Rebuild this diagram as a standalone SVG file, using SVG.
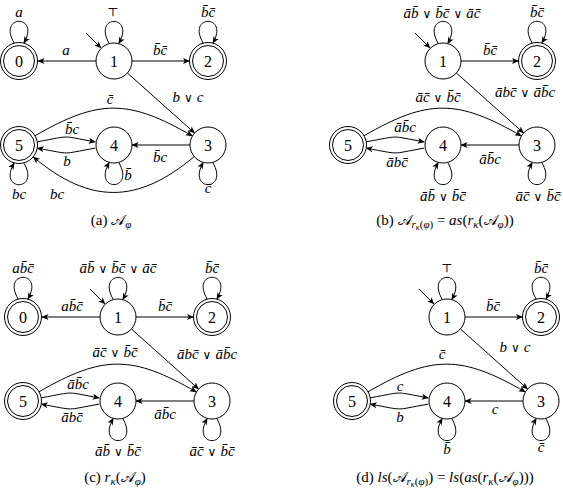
<svg xmlns="http://www.w3.org/2000/svg" width="563" height="495" viewBox="0 0 563 495">
<defs>
<marker id="ah" viewBox="-7 -4 8 8" refX="0" refY="0" markerWidth="8" markerHeight="8" markerUnits="userSpaceOnUse" orient="auto">
<path d="M0.5,0 L-6.5,-3 L-4.8,0 L-6.5,3 Z" fill="#000"/>
</marker>
</defs>
<style>
.st{fill:#fff;stroke:#000;stroke-width:1}
.e{fill:none;stroke:#000;stroke-width:1;marker-end:url(#ah)}
text{font-family:'Liberation Serif','Times New Roman','DejaVu Serif',serif}
.lb{font-style:italic;font-size:15px;text-anchor:middle;fill:#000}
.nd{font-size:16px;text-anchor:middle;fill:#000}
.cap{font-size:15px;text-anchor:middle;fill:#000}
.up{font-style:normal}
.op{font-style:normal;font-family:'DejaVu Serif',serif;font-size:12px}
.it{font-style:italic}
.sc{font-family:'DejaVu Serif','Noto Sans','DejaVu Sans',serif;font-style:normal}
.sub{font-size:11px}
.ss{font-size:8px}
</style>
<rect width="563" height="495" fill="#fff"/>

<!-- Panel (a) -->
<g id="panel-a">
<g id="a-edges">
<path class="e" d="M86,33 L101,48"/>
<path class="e" d="M14.2,43.1 C-3,14 41,14 23.8,43.1"/>
<path class="e" d="M109.3,43.6 C92,14 136,14 118.7,43.6"/>
<path class="e" d="M203.2,43.1 C186,14 230,14 212.8,43.1"/>
<path class="e" d="M96,61 L38,61"/>
<path class="e" d="M132,61 L189.5,61"/>
<path class="e" d="M127.4,73 L194.6,133"/>
<path class="e" d="M35,135.8 C99,98.8 128.4,99 192.4,136"/>
<path class="e" d="M194.2,156.6 C137.5,204.2 89.9,204.5 33.2,156.9"/>
<path class="e" d="M37.2,141.8 C73.4,135.4 59.1,135.5 95.3,141.9"/>
<path class="e" d="M95.3,148.1 C59.1,154.5 73.4,154.5 37.2,148.2"/>
<path class="e" d="M190,145 L132,145"/>
<path class="e" d="M23.8,162.9 C41,192 -3,192 14.2,162.9"/>
<path class="e" d="M118.7,162.4 C136,192 92,192 109.3,162.4"/>
<path class="e" d="M212.7,162.4 C230,192 186,192 203.3,162.4"/>
</g>
<g id="a-labels">
<text class="lb" x="19" y="17">a</text>
<text class="lb op" x="113" y="16">⊤</text>
<text class="lb" x="208" y="17">b&#x304;c&#x304;</text>
<text class="lb" x="66" y="55">a</text>
<text class="lb" x="160" y="55">b&#x304;c&#x304;</text>
<text class="lb" x="188" y="102">b<tspan class="op" dx="4">∨</tspan><tspan dx="4">c</tspan></text>
<text class="lb" x="110" y="104">c&#x304;</text>
<text class="lb" x="72" y="134">b&#x304;c</text>
<text class="lb" x="67" y="166">b</text>
<text class="lb" x="160" y="162">b&#x304;c</text>
<text class="lb" x="19" y="199">bc</text>
<text class="lb" x="128" y="180">b&#x304;</text>
<text class="lb" x="208" y="193">c&#x304;</text>
<text class="lb" x="57" y="199">bc</text>
</g>
<g id="a-n0"><circle class="st" cx="19" cy="61" r="18.5"/><circle class="st" cx="19" cy="61" r="15.5"/><text class="nd" x="19" y="66.5">0</text></g>
<g id="a-n1"><circle class="st" cx="114" cy="61" r="18"/><text class="nd" x="114" y="66.5">1</text></g>
<g id="a-n2"><circle class="st" cx="208" cy="61" r="18.5"/><circle class="st" cx="208" cy="61" r="15.5"/><text class="nd" x="208" y="66.5">2</text></g>
<g id="a-n3"><circle class="st" cx="208" cy="145" r="18"/><text class="nd" x="208" y="150.5">3</text></g>
<g id="a-n4"><circle class="st" cx="114" cy="145" r="18"/><text class="nd" x="114" y="150.5">4</text></g>
<g id="a-n5"><circle class="st" cx="19" cy="145" r="18.5"/><circle class="st" cx="19" cy="145" r="15.5"/><text class="nd" x="19" y="150.5">5</text></g>
<text class="cap" x="111" y="225">(a) <tspan class="sc">𝒜</tspan><tspan class="sub it" dy="3">φ</tspan></text>
</g>

<!-- Panel (b) -->
<g id="panel-b" transform="translate(329,0)">
<g id="b-edges">
<path class="e" d="M86,33 L101,48"/>
<path class="e" d="M109.3,43.6 C92,14 136,14 118.7,43.6"/>
<path class="e" d="M203.2,43.1 C186,14 230,14 212.8,43.1"/>
<path class="e" d="M132,61 L189.5,61"/>
<path class="e" d="M127.4,73 L194.6,133"/>
<path class="e" d="M35,135.8 C99,98.8 128.4,99 192.4,136"/>
<path class="e" d="M37.2,141.8 C73.4,135.4 59.1,135.5 95.3,141.9"/>
<path class="e" d="M95.3,148.1 C59.1,154.5 73.4,154.5 37.2,148.2"/>
<path class="e" d="M190,145 L132,145"/>
<path class="e" d="M118.7,162.4 C136,192 92,192 109.3,162.4"/>
<path class="e" d="M212.7,162.4 C230,192 186,192 203.3,162.4"/>
</g>
<g id="b-labels">
<text class="lb" x="113" y="18">&#x101;b&#x304;<tspan class="op" dx="4">∨</tspan><tspan dx="4">b&#x304;c&#x304;</tspan><tspan class="op" dx="4">∨</tspan><tspan dx="4">&#x101;c&#x304;</tspan></text>
<text class="lb" x="208" y="17">b&#x304;c&#x304;</text>
<text class="lb" x="161" y="55">b&#x304;c&#x304;</text>
<text class="lb" x="196" y="97">&#x101;bc&#x304;<tspan class="op" dx="4">∨</tspan><tspan dx="4">&#x101;b&#x304;c</tspan></text>
<text class="lb" x="109" y="102">&#x101;c&#x304;<tspan class="op" dx="4">∨</tspan><tspan dx="4">b&#x304;c&#x304;</tspan></text>
<text class="lb" x="76" y="132">&#x101;b&#x304;c</text>
<text class="lb" x="68" y="167">&#x101;bc&#x304;</text>
<text class="lb" x="161" y="164">&#x101;b&#x304;c</text>
<text class="lb" x="114" y="201">&#x101;b&#x304;<tspan class="op" dx="4">∨</tspan><tspan dx="4">b&#x304;c&#x304;</tspan></text>
<text class="lb" x="209" y="201">&#x101;c&#x304;<tspan class="op" dx="4">∨</tspan><tspan dx="4">b&#x304;c&#x304;</tspan></text>
</g>
<g id="b-n1"><circle class="st" cx="114" cy="61" r="18"/><text class="nd" x="114" y="66.5">1</text></g>
<g id="b-n2"><circle class="st" cx="208" cy="61" r="18.5"/><circle class="st" cx="208" cy="61" r="15.5"/><text class="nd" x="208" y="66.5">2</text></g>
<g id="b-n3"><circle class="st" cx="208" cy="145" r="18"/><text class="nd" x="208" y="150.5">3</text></g>
<g id="b-n4"><circle class="st" cx="114" cy="145" r="18"/><text class="nd" x="114" y="150.5">4</text></g>
<g id="b-n5"><circle class="st" cx="19" cy="145" r="18.5"/><circle class="st" cx="19" cy="145" r="15.5"/><text class="nd" x="19" y="150.5">5</text></g>
<text class="cap" x="116" y="225">(b) <tspan class="sc">𝒜</tspan><tspan class="sub it" dy="3">r</tspan><tspan class="ss it" dy="2">κ</tspan><tspan class="sub" dy="-2">(</tspan><tspan class="sub it">φ</tspan><tspan class="sub">)</tspan><tspan dy="-3"> = </tspan><tspan class="it">as</tspan>(<tspan class="it">r</tspan><tspan class="sub it" dy="3">κ</tspan><tspan dy="-3">(</tspan><tspan class="sc">𝒜</tspan><tspan class="sub it" dy="3">φ</tspan><tspan dy="-3">))</tspan></text>
</g>

<!-- Panel (c) -->
<g id="panel-c" transform="translate(4,256)">
<g id="c-edges">
<path class="e" d="M86,33 L101,48"/>
<path class="e" d="M14.2,43.1 C-3,14 41,14 23.8,43.1"/>
<path class="e" d="M109.3,43.6 C92,14 136,14 118.7,43.6"/>
<path class="e" d="M203.2,43.1 C186,14 230,14 212.8,43.1"/>
<path class="e" d="M96,61 L38,61"/>
<path class="e" d="M132,61 L189.5,61"/>
<path class="e" d="M127.4,73 L194.6,133"/>
<path class="e" d="M35,135.8 C99,98.8 128.4,99 192.4,136"/>
<path class="e" d="M37.2,141.8 C73.4,135.4 59.1,135.5 95.3,141.9"/>
<path class="e" d="M95.3,148.1 C59.1,154.5 73.4,154.5 37.2,148.2"/>
<path class="e" d="M190,145 L132,145"/>
<path class="e" d="M118.7,162.4 C136,192 92,192 109.3,162.4"/>
<path class="e" d="M212.7,162.4 C230,192 186,192 203.3,162.4"/>
</g>
<g id="c-labels">
<text class="lb" x="19" y="17">ab&#x304;c&#x304;</text>
<text class="lb" x="114" y="17">&#x101;b&#x304;<tspan class="op" dx="4">∨</tspan><tspan dx="4">b&#x304;c&#x304;</tspan><tspan class="op" dx="4">∨</tspan><tspan dx="4">&#x101;c&#x304;</tspan></text>
<text class="lb" x="208" y="17">b&#x304;c&#x304;</text>
<text class="lb" x="68" y="55">ab&#x304;c&#x304;</text>
<text class="lb" x="161" y="55">b&#x304;c&#x304;</text>
<text class="lb" x="203" y="103">&#x101;bc&#x304;<tspan class="op" dx="4">∨</tspan><tspan dx="4">&#x101;b&#x304;c</tspan></text>
<text class="lb" x="111" y="101">&#x101;c&#x304;<tspan class="op" dx="4">∨</tspan><tspan dx="4">b&#x304;c&#x304;</tspan></text>
<text class="lb" x="74" y="133">&#x101;b&#x304;c</text>
<text class="lb" x="68" y="166">&#x101;bc&#x304;</text>
<text class="lb" x="161" y="163">&#x101;b&#x304;c</text>
<text class="lb" x="114" y="200">&#x101;b&#x304;<tspan class="op" dx="4">∨</tspan><tspan dx="4">b&#x304;c&#x304;</tspan></text>
<text class="lb" x="208" y="200">&#x101;c&#x304;<tspan class="op" dx="4">∨</tspan><tspan dx="4">b&#x304;c&#x304;</tspan></text>
</g>
<g id="c-n0"><circle class="st" cx="19" cy="61" r="18.5"/><circle class="st" cx="19" cy="61" r="15.5"/><text class="nd" x="19" y="66.5">0</text></g>
<g id="c-n1"><circle class="st" cx="114" cy="61" r="18"/><text class="nd" x="114" y="66.5">1</text></g>
<g id="c-n2"><circle class="st" cx="208" cy="61" r="18.5"/><circle class="st" cx="208" cy="61" r="15.5"/><text class="nd" x="208" y="66.5">2</text></g>
<g id="c-n3"><circle class="st" cx="208" cy="145" r="18"/><text class="nd" x="208" y="150.5">3</text></g>
<g id="c-n4"><circle class="st" cx="114" cy="145" r="18"/><text class="nd" x="114" y="150.5">4</text></g>
<g id="c-n5"><circle class="st" cx="19" cy="145" r="18.5"/><circle class="st" cx="19" cy="145" r="15.5"/><text class="nd" x="19" y="150.5">5</text></g>
<text class="cap" x="111" y="226">(c) <tspan class="it">r</tspan><tspan class="sub it" dy="3">κ</tspan><tspan dy="-3">(</tspan><tspan class="sc">𝒜</tspan><tspan class="sub it" dy="3">φ</tspan><tspan dy="-3">)</tspan></text>
</g>

<!-- Panel (d) -->
<g id="panel-d" transform="translate(333,256)">
<g id="d-edges">
<path class="e" d="M86,33 L101,48"/>
<path class="e" d="M109.3,43.6 C92,14 136,14 118.7,43.6"/>
<path class="e" d="M203.2,43.1 C186,14 230,14 212.8,43.1"/>
<path class="e" d="M132,61 L189.5,61"/>
<path class="e" d="M127.4,73 L194.6,133"/>
<path class="e" d="M35,135.8 C99,98.8 128.4,99 192.4,136"/>
<path class="e" d="M37.2,141.8 C73.4,135.4 59.1,135.5 95.3,141.9"/>
<path class="e" d="M95.3,148.1 C59.1,154.5 73.4,154.5 37.2,148.2"/>
<path class="e" d="M190,145 L132,145"/>
<path class="e" d="M118.7,162.4 C136,192 92,192 109.3,162.4"/>
<path class="e" d="M212.7,162.4 C230,192 186,192 203.3,162.4"/>
</g>
<g id="d-labels">
<text class="lb op" x="114" y="16">⊤</text>
<text class="lb" x="208" y="17">b&#x304;c&#x304;</text>
<text class="lb" x="160" y="55">b&#x304;c&#x304;</text>
<text class="lb" x="182" y="96">b<tspan class="op" dx="4">∨</tspan><tspan dx="4">c</tspan></text>
<text class="lb" x="109" y="103">c&#x304;</text>
<text class="lb" x="67" y="135">c</text>
<text class="lb" x="67" y="166">b</text>
<text class="lb" x="162" y="158">c</text>
<text class="lb" x="114" y="198">b&#x304;</text>
<text class="lb" x="208" y="196">c&#x304;</text>
</g>
<g id="d-n1"><circle class="st" cx="114" cy="61" r="18"/><text class="nd" x="114" y="66.5">1</text></g>
<g id="d-n2"><circle class="st" cx="208" cy="61" r="18.5"/><circle class="st" cx="208" cy="61" r="15.5"/><text class="nd" x="208" y="66.5">2</text></g>
<g id="d-n3"><circle class="st" cx="208" cy="145" r="18"/><text class="nd" x="208" y="150.5">3</text></g>
<g id="d-n4"><circle class="st" cx="114" cy="145" r="18"/><text class="nd" x="114" y="150.5">4</text></g>
<g id="d-n5"><circle class="st" cx="19" cy="145" r="18.5"/><circle class="st" cx="19" cy="145" r="15.5"/><text class="nd" x="19" y="150.5">5</text></g>
<text class="cap" x="112" y="226">(d) <tspan class="it">ls</tspan>(<tspan class="sc">𝒜</tspan><tspan class="sub it" dy="3">r</tspan><tspan class="ss it" dy="2">κ</tspan><tspan class="sub" dy="-2">(</tspan><tspan class="sub it">φ</tspan><tspan class="sub">)</tspan><tspan dy="-3">) = </tspan><tspan class="it">ls</tspan>(<tspan class="it">as</tspan>(<tspan class="it">r</tspan><tspan class="sub it" dy="3">κ</tspan><tspan dy="-3">(</tspan><tspan class="sc">𝒜</tspan><tspan class="sub it" dy="3">φ</tspan><tspan dy="-3">)))</tspan></text>
</g>
</svg>
